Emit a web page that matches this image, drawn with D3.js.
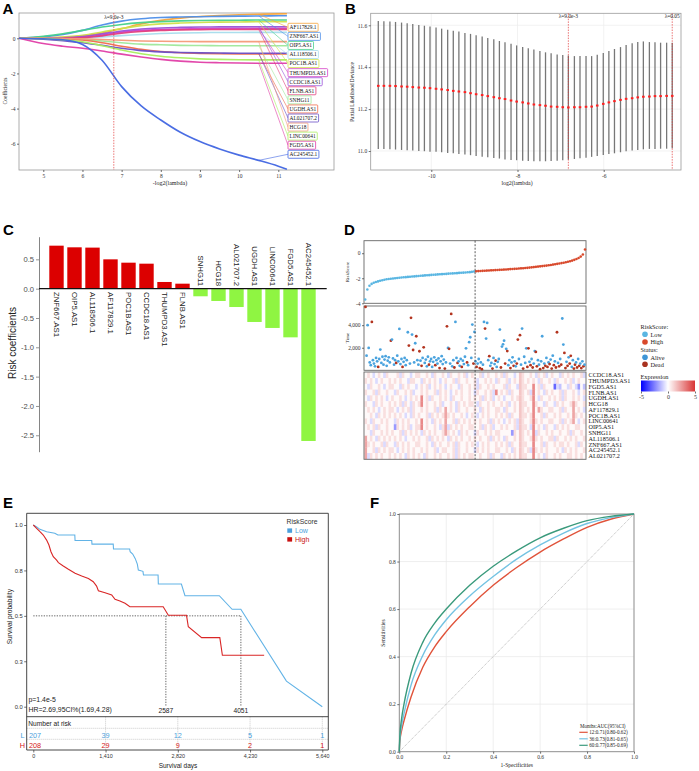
<!DOCTYPE html>
<html>
<head>
<meta charset="utf-8">
<script src="https://cdn.jsdelivr.net/npm/d3@7/dist/d3.min.js"></script>
<style>body{margin:0;background:#fff}svg{display:block}</style>
</head>
<body>
<svg id="fig" width="699" height="771" xmlns="http://www.w3.org/2000/svg"></svg>
<script>
// ================= DATA =================
// ---- Panel A : LASSO coefficient paths ----
const lassoX = [4.38,5,5.5,6,6.5,7,7.5,8,8.5,9,9.5,10,10.5,11,11.22];
const lassoGenes = ["AF117829.1","ZNF667.AS1","OIP5.AS1","AL118506.1","POC1B.AS1","THUMPD3.AS1","CCDC18.AS1","FLNB.AS1","SNHG11","UGDH.AS1","AL021707.2","HCG18","LINC00641","FGD5.AS1","AC245452.1"];
const lassoColors = ["#f5a43c","#4d8ee8","#45d18a","#a6dcec","#cde04a","#d440c6","#9a52d8","#e23f7c","#9ee89a","#f06c4c","#6a4fc6","#f49a78","#a9ef5e","#e03ea6","#4065e2"];
const lassoPaths = [
  [0,0.02,0.06,0.14,0.3,0.55,0.82,1.02,1.15,1.24,1.3,1.34,1.37,1.39,1.40],
  [0,0.08,0.22,0.45,0.76,0.98,1.11,1.18,1.21,1.23,1.25,1.26,1.27,1.28,1.28],
  [0,0.12,0.26,0.45,0.64,0.79,0.89,0.95,0.99,1.01,1.02,1.03,1.04,1.04,1.04],
  [0,0,0.01,0.03,0.08,0.15,0.22,0.27,0.3,0.32,0.33,0.33,0.34,0.34,0.34],
  [0,0.02,0.07,0.17,0.36,0.56,0.72,0.82,0.87,0.9,0.92,0.93,0.94,0.94,0.94],
  [0,0,0.02,0.06,0.19,0.35,0.45,0.5,0.53,0.55,0.56,0.56,0.57,0.57,0.57],
  [0,0.01,0.03,0.1,0.25,0.42,0.53,0.59,0.62,0.64,0.65,0.65,0.66,0.66,0.66],
  [0,0,0.01,0.04,0.14,0.29,0.39,0.45,0.48,0.49,0.5,0.5,0.51,0.51,0.51],
  [0,0,-0.02,-0.06,-0.15,-0.25,-0.33,-0.37,-0.4,-0.41,-0.42,-0.42,-0.42,-0.42,-0.42],
  [0,-0.01,-0.04,-0.1,-0.25,-0.45,-0.63,-0.75,-0.82,-0.86,-0.88,-0.89,-0.89,-0.89,-0.89],
  [0,-0.05,-0.13,-0.25,-0.4,-0.57,-0.7,-0.77,-0.81,-0.83,-0.84,-0.85,-0.85,-0.85,-0.85],
  [0,0,-0.01,-0.03,-0.07,-0.11,-0.15,-0.17,-0.18,-0.19,-0.19,-0.19,-0.19,-0.19,-0.19],
  [0,-0.02,-0.08,-0.2,-0.42,-0.67,-0.88,-1.02,-1.11,-1.17,-1.2,-1.22,-1.23,-1.23,-1.23],
  [0,-0.3,-0.45,-0.57,-0.72,-0.9,-1.06,-1.2,-1.3,-1.36,-1.39,-1.41,-1.42,-1.42,-1.42],
  [0,-0.03,-0.08,-0.35,-1.25,-2.75,-3.85,-4.65,-5.35,-5.88,-6.3,-6.65,-6.95,-7.28,-7.45]
];
const lassoTicksX = [5,6,7,8,9,10,11];
const lassoTicksY = [0,-2,-4,-6];
const lassoLambdaMin = 6.8;
const lassoLambdaText = "λ=9.0e-3";

// ---- Panel B : cross-validation ----
const cvLogLambda = [-11.23,-11.10,-10.96,-10.83,-10.69,-10.56,-10.43,-10.29,-10.16,-10.03,-9.89,-9.76,-9.62,-9.49,-9.36,-9.22,-9.09,-8.96,-8.82,-8.69,-8.55,-8.42,-8.29,-8.15,-8.02,-7.88,-7.75,-7.62,-7.48,-7.35,-7.22,-7.08,-6.95,-6.82,-6.68,-6.55,-6.41,-6.28,-6.15,-6.01,-5.88,-5.75,-5.61,-5.48,-5.34,-5.21,-5.08,-4.94,-4.81,-4.68,-4.54,-4.41];
const cvMean = [11.311,11.311,11.311,11.310,11.308,11.307,11.305,11.303,11.302,11.300,11.297,11.294,11.291,11.287,11.284,11.281,11.276,11.271,11.267,11.262,11.257,11.252,11.248,11.241,11.236,11.232,11.227,11.222,11.219,11.216,11.212,11.211,11.209,11.208,11.209,11.209,11.211,11.212,11.217,11.225,11.232,11.238,11.244,11.249,11.252,11.256,11.259,11.260,11.262,11.262,11.263,11.263];
const cvUpper = [11.621,11.619,11.618,11.616,11.613,11.610,11.606,11.602,11.598,11.594,11.589,11.584,11.579,11.574,11.570,11.563,11.559,11.552,11.546,11.539,11.533,11.525,11.519,11.512,11.504,11.496,11.490,11.484,11.477,11.471,11.466,11.461,11.458,11.456,11.453,11.453,11.453,11.453,11.460,11.468,11.477,11.487,11.496,11.506,11.514,11.520,11.523,11.520,11.519,11.517,11.517,11.517];
const cvLower = [11.010,11.010,11.008,11.007,11.005,11.004,11.002,11.000,10.999,10.997,10.996,10.994,10.991,10.989,10.986,10.983,10.980,10.976,10.973,10.970,10.967,10.964,10.960,10.957,10.956,10.954,10.952,10.951,10.951,10.951,10.952,10.954,10.956,10.959,10.962,10.965,10.968,10.972,10.976,10.981,10.986,10.989,10.994,10.999,11.002,11.005,11.008,11.010,11.010,11.011,11.011,11.013];
const cvTicksX = [-10,-8,-6];
const cvTicksY = [11.0,11.2,11.4,11.6];
const cvMarkX = [-6.82,-4.41];
const cvMarkText = ["λ=9.0e-3","λ=0.05"];

// ---- Panel C : risk coefficients ----
const coefGenes = ["ZNF667.AS1","OIP5.AS1","AL118506.1","AF117829.1","POC1B.AS1","CCDC18.AS1","THUMPD3.AS1","FLNB.AS1","SNHG11","HCG18","AL021707.2","UGDH.AS1","LINC00641","FGD5.AS1","AC245452.1"];
const coefValues = [0.733,0.705,0.70,0.50,0.443,0.426,0.114,0.085,-0.13,-0.21,-0.313,-0.568,-0.67,-0.83,-2.597];
const coefTicks = [0.5,0,-0.5,-1,-1.5,-2,-2.5];

// ---- Panel D : risk score, survival status, heatmap ----
const riskLow = [-3.7,-2.9,-2.6,-2.45,-2.36,-2.3,-2.25,-2.2,-2.16,-2.12,
 -2.08,-2.06,-2.04,-2.02,-2.0,-1.98,-1.96,-1.94,-1.92,-1.91,
 -1.89,-1.88,-1.86,-1.85,-1.83,-1.82,-1.8,-1.79,-1.77,-1.76,
 -1.75,-1.73,-1.72,-1.71,-1.69,-1.68,-1.67,-1.66,-1.65,-1.63,
 -1.62,-1.61,-1.6,-1.59,-1.57,-1.56,-1.55,-1.54,-1.52,-1.51,
 -1.49,-1.46];
const riskHigh = [-1.44,-1.43,-1.42,-1.41,-1.40,-1.39,-1.38,-1.37,-1.36,-1.35,
 -1.34,-1.33,-1.32,-1.31,-1.30,-1.29,-1.27,-1.26,-1.25,-1.24,
 -1.22,-1.21,-1.20,-1.18,-1.17,-1.15,-1.13,-1.11,-1.09,-1.07,
 -1.05,-1.03,-1.01,-0.99,-0.96,-0.94,-0.91,-0.88,-0.85,-0.82,
 -0.79,-0.76,-0.72,-0.68,-0.64,-0.59,-0.53,-0.46,-0.38,-0.27,
 -0.1,0.3];
const riskTicks = [0,-2,-4];
const timeLow = [5620,1300,4000,1980,700,450,4290,900,600,350,
 1100,800,300,1000,1840,650,1200,500,950,1250,
 400,850,1150,700,2630,2720,1050,500,900,650,
 1300,800,3670,550,1000,300,750,1100,450,900,
 3375,2190,600,4650,3170,1800,700,2400,3020,900,
 500,1690,850,400,1100,2040,650,950,350,1200,
 500,800,1000,300,750,1150,450,900,600,1050,
 200,800,1250,550,950,150,700,3900,1980,1900,
 600,5000,350,900,250,4290,1100,650,800,400,
 1000,300,850,550,1200,1950,700,450,2490,2930,
 1100,4050,600,3400];
const deadLow = "1000001000"+"0010000000"+"0000100001"+"0000010000"+"0101010010"+"0101010000"+"1000001000"+"1000010101"+"0100100100"+"0100001000"+"0010";
const timeHigh = [800,300,600,1000,200,700,100,500,4290,3700,
 2810,4200,900,1250,400,650,150,1100,550,850,
 300,750,1000,3610,250,2100,2300,2630,600,1900,
 1700,450,900,200,700,1150,400,800,350,600,
 2720,1000,3110,500,3700,150,1200,650,1950,300,
 1950,750,450,1000,250,600,1700,1630,350,900,
 500,100,800,3020,200,600,400,1100,300,700,
 550,950,150,1300,450,800,250,3375,650,350,
 1000,500,4590,2280,1540,200,750,400,1150,600,
 1280,300,900,150,500,700,250,1000,400,600,
 200,800,350,500];
const deadHigh = "0100101001"+"0001001001"+"0000100010"+"1001001001"+"1010010001"+"1010100110"+"0100101010"+"1010101101"+"0100110101"+"1001101010"+"1010";
const timeTicks = [2000,4000];
const heatGenes = ["CCDC18.AS1","THUMPD3.AS1","FGD5.AS1","FLNB.AS1","UGDH.AS1","HCG18","AF117829.1","POC1B.AS1","LINC00641","OIP5.AS1","SNHG11","AL118506.1","ZNF667.AS1","AC245452.1","AL021707.2"];
const heatRows = [
 "4543454354"+"4453544345"+"5445435445"+"4354454534"+"5445345445"+"4535443465"+"4454354534"+"5443545454"+"453",
 "5454345445"+"4545443554"+"4354545434"+"5445354454"+"4534454543"+"5445345465"+"4545435445"+"4354454534"+"544",
 "4354454345"+"5443545443"+"4545345454"+"3454435445"+"4535445454"+"4453544365"+"5448453544"+"4032443543"+"142",
 "5445354454"+"4354454534"+"4545445354"+"5434545445"+"4354454538"+"4545354465"+"4538454354"+"5445354454"+"345",
 "4354545434"+"5445434545"+"4845354454"+"5435445445"+"4545354534"+"5434454565"+"4458435445"+"4545354454"+"543",
 "5443545445"+"4545354354"+"5845445453"+"4454354545"+"5435445454"+"4545345465"+"5448544354"+"4354544575"+"445",
 "4545434545"+"5434545354"+"4545445354"+"7454354454"+"4543545445"+"5435445465"+"4548475445"+"5445354474"+"543",
 "4454354545"+"4545434354"+"5445354545"+"7545445434"+"5434545445"+"4545354465"+"5458445354"+"4545445475"+"454",
 "5435445454"+"4354545445"+"4845435454"+"7445354545"+"4545445354"+"5434545365"+"4458545445"+"5445354574"+"345",
 "4545354454"+"4154545345"+"5845445435"+"7354545445"+"5445354534"+"4545445365"+"5438454354"+"4354545445"+"544",
 "4435445454"+"5445354545"+"4354545445"+"7545435454"+"4354454545"+"5444415465"+"4548354454"+"5445445354"+"454",
 "7454354545"+"4545434454"+"5445354545"+"4354545445"+"4545445354"+"5435445465"+"4458545445"+"5354454545"+"445",
 "7545445354"+"4354545445"+"5445435454"+"4545354454"+"5434545445"+"4545354465"+"5448445354"+"4545545445"+"354",
 "7445354545"+"5434545454"+"4545445345"+"5445354454"+"4354545445"+"5445435465"+"4538545454"+"4454354545"+"445",
 "7354545445"+"4545435454"+"5435445454"+"4545354545"+"5445445354"+"4354545465"+"5448454354"+"4545445545"+"454"
];
const heatLevelValues = [-3,-2,-1.2,-0.7,0.15,0.8,1.4,2.2,2.9,4];
const exprTicks = [-5,0,5];

// ---- Panel E : Kaplan-Meier ----
const kmLow = [[0,1],[60,0.99],[130,0.976],[260,0.963],[420,0.955],[480,0.945],[810,0.945],[815,0.915],[1140,0.915],[1145,0.895],[1560,0.895],[1565,0.868],[1880,0.868],[1890,0.853],[1940,0.84],[1990,0.815],[2030,0.785],[2050,0.752],[2140,0.745],[2150,0.725],[2435,0.725],[2440,0.675],[2890,0.675],[2960,0.611],[3630,0.611],[3880,0.536],[4050,0.536],[4940,0.141],[5640,0]];
const kmHigh = [[0,1],[65,0.982],[130,0.963],[195,0.945],[260,0.917],[305,0.89],[345,0.853],[390,0.826],[455,0.807],[490,0.793],[585,0.774],[685,0.756],[815,0.734],[945,0.719],[1075,0.706],[1170,0.688],[1235,0.664],[1270,0.638],[1400,0.627],[1530,0.615],[1595,0.591],[1690,0.582],[1790,0.569],[1885,0.55],[2535,0.55],[2635,0.503],[2990,0.503],[3025,0.44],[3285,0.38],[3640,0.38],[3690,0.283],[4505,0.283]];
const kmTicksX = [0,1410,2820,4230,5640];
const kmTicksY = [0,0.25,0.5,0.75,1];
const kmTickLabelsY = ["0.0","0.3","0.5","0.8","1.0"];
const kmMedians = [2587,4051];
const atRiskLow = [207,39,12,5,1];
const atRiskHigh = [208,29,9,2,1];
const kmP = "p=1.4e-5";
const kmHR = "HR=2.69,95CI%(1.69,4.28)";

// ---- Panel F : time-dependent ROC ----
const roc12 = [[0,0],[0.002,0.04],[0.01,0.09],[0.02,0.13],[0.05,0.23],[0.1,0.355],[0.15,0.44],[0.2,0.505],[0.3,0.61],[0.4,0.7],[0.5,0.775],[0.6,0.84],[0.7,0.895],[0.8,0.944],[0.9,0.978],[1,1]];
const roc36 = [[0,0],[0.002,0.05],[0.01,0.11],[0.02,0.16],[0.05,0.28],[0.1,0.405],[0.15,0.49],[0.2,0.555],[0.3,0.655],[0.4,0.737],[0.5,0.81],[0.6,0.87],[0.7,0.92],[0.8,0.96],[0.9,0.985],[1,1]];
const roc60 = [[0,0],[0.002,0.06],[0.01,0.14],[0.02,0.2],[0.05,0.33],[0.1,0.46],[0.15,0.54],[0.2,0.6],[0.3,0.7],[0.4,0.78],[0.5,0.845],[0.6,0.9],[0.7,0.94],[0.8,0.972],[0.9,0.99],[1,1]];
const rocLabels = ["12:0.71(0.80-0.62)","36:0.73(0.81-0.65)","60:0.77(0.85-0.69)"];
const rocTicks = [0,0.2,0.4,0.6,0.8,1.0];

// ================= DRAWING =================
const svg = d3.select("#fig");
const SERIF = "'Liberation Serif','Times New Roman',Times,serif";
const SANS = "'Liberation Sans',Arial,Helvetica,sans-serif";

function txt(p, x, y, s, o = {}) {
  const t = p.append("text").attr("x", x).attr("y", y).text(s)
    .attr("font-family", o.font || SERIF).attr("font-size", o.size || 5.5)
    .attr("fill", o.fill || "#222");
  if (o.anchor) t.attr("text-anchor", o.anchor);
  if (o.weight) t.attr("font-weight", o.weight);
  if (o.dy) t.attr("dy", o.dy);
  if (o.rotate != null) t.attr("transform", `rotate(${o.rotate},${x},${y})`);
  return t;
}
function styleAxis(g, o = {}) {
  g.attr("font-family", o.font || SERIF).attr("font-size", o.size || 5.5);
  g.selectAll(".tick text").attr("fill", o.fill || "#333");
  g.selectAll(".tick line").attr("stroke", o.stroke || "#333").attr("stroke-width", o.sw || 0.7);
  if (o.noDomain) g.select(".domain").remove();
  else g.select(".domain").attr("stroke", o.stroke || "#333").attr("stroke-width", o.sw || 0.8);
}
const fmtPlain = d => String(d);

// panel letters
[["A",2.5,14],["B",345,14],["C",3,235],["D",344,235],["E",3,508],["F",370,508]].forEach(([l,x,y]) =>
  txt(svg, x, y, l, {font: SANS, size: 15, weight: "bold", fill: "#000"}));

// ---------- Panel A ----------
{
  const g = svg.append("g");
  const x = d3.scaleLinear().domain([5, 11]).range([43.3, 278.3]);
  const y = d3.scaleLinear().domain([0, -6]).range([38.3, 143.7]);
  g.append("rect").attr("x", 19).attr("y", 13).attr("width", 315).attr("height", 157)
    .attr("fill", "none").attr("stroke", "#9a9a9a").attr("stroke-width", 0.8);
  g.append("g").attr("transform", "translate(0,170)")
    .call(d3.axisBottom(x).tickValues(lassoTicksX).tickSize(2).tickPadding(2).tickFormat(fmtPlain))
    .call(a => styleAxis(a, {noDomain: true, size: 5.5}));
  g.append("g").attr("transform", "translate(19,0)")
    .call(d3.axisLeft(y).tickValues(lassoTicksY).tickSize(2).tickPadding(1.5).tickFormat(fmtPlain))
    .call(a => styleAxis(a, {noDomain: true, size: 5.5}));
  const line = d3.line().x((d, i) => x(lassoX[i])).y(d => y(d)).curve(d3.curveMonotoneX);
  lassoPaths.forEach((p, k) => g.append("path").attr("d", line(p)).attr("fill", "none")
    .attr("stroke", lassoColors[k]).attr("stroke-width", 1.6).attr("stroke-opacity", 0.95));
  g.append("line").attr("x1", x(lassoLambdaMin)).attr("x2", x(lassoLambdaMin)).attr("y1", 13).attr("y2", 170)
    .attr("stroke", "#e23a3a").attr("stroke-width", 0.7).attr("stroke-dasharray", "1.5,1.2");
  txt(g, x(lassoLambdaMin), 19, lassoLambdaText, {anchor: "middle", size: 5.4});
  const labTop = 27.3, labStep = 9.07;
  lassoGenes.forEach((name, k) => {
    const ly = labTop + k * labStep;
    g.append("line").attr("x1", x(lassoX[12])).attr("y1", y(lassoPaths[k][12]))
      .attr("x2", 288).attr("y2", ly).attr("stroke", lassoColors[k]).attr("stroke-width", 0.6);
    const r = g.append("rect").attr("x", 288).attr("y", ly - 4).attr("height", 8).attr("rx", 0.8)
      .attr("fill", "#fff").attr("stroke", lassoColors[k]).attr("stroke-width", 0.8);
    const t = txt(g, 289.6, ly + 1.9, name, {size: 5.4, fill: "#111"});
    r.attr("width", t.node().getComputedTextLength() + 3.2);
  });
  txt(g, 170, 184.5, "-log2(lambda)", {anchor: "middle", size: 6});
  txt(g, 7, 91, "Coefficients", {anchor: "middle", size: 5.5, rotate: -90});
}

// ---------- Panel B ----------
{
  const g = svg.append("g");
  const x = d3.scaleLinear().domain([-10, -6]).range([431.3, 603.7]);
  const y = d3.scaleLinear().domain([11.0, 11.6]).range([151, 25.3]);
  const L = 370.7, R = 681, T = 13.3, Bt = 170;
  g.selectAll(".gx").data(cvTicksX).join("line").attr("x1", d => x(d)).attr("x2", d => x(d))
    .attr("y1", T).attr("y2", Bt).attr("stroke", "#ececec").attr("stroke-width", 0.7);
  g.selectAll(".gy").data(cvTicksY).join("line").attr("y1", d => y(d)).attr("y2", d => y(d))
    .attr("x1", L).attr("x2", R).attr("stroke", "#ececec").attr("stroke-width", 0.7);
  g.append("rect").attr("x", L).attr("y", T).attr("width", R - L).attr("height", Bt - T)
    .attr("fill", "none").attr("stroke", "#9a9a9a").attr("stroke-width", 0.8);
  g.append("g").attr("transform", `translate(0,${Bt})`)
    .call(d3.axisBottom(x).tickValues(cvTicksX).tickSize(2).tickPadding(2).tickFormat(fmtPlain))
    .call(a => styleAxis(a, {noDomain: true}));
  g.append("g").attr("transform", `translate(${L},0)`)
    .call(d3.axisLeft(y).tickValues(cvTicksY).tickSize(2).tickPadding(1.5).tickFormat(d => d.toFixed(1)))
    .call(a => styleAxis(a, {noDomain: true}));
  g.selectAll(".eb").data(cvLogLambda).join("line")
    .attr("x1", d => x(d)).attr("x2", d => x(d))
    .attr("y1", (d, i) => y(cvLower[i])).attr("y2", (d, i) => y(cvUpper[i]))
    .attr("stroke", "#777").attr("stroke-width", 1.3);
  g.selectAll(".mp").data(cvLogLambda).join("rect")
    .attr("x", d => x(d) - 1.3).attr("y", (d, i) => y(cvMean[i]) - 1)
    .attr("width", 2.6).attr("height", 2).attr("fill", "#ff2020");
  cvMarkX.forEach((m, i) => {
    g.append("line").attr("x1", x(m)).attr("x2", x(m)).attr("y1", T).attr("y2", Bt)
      .attr("stroke", "#e23a3a").attr("stroke-width", 0.7).attr("stroke-dasharray", "1.5,1.2");
    txt(g, x(m), 17.5, cvMarkText[i], {anchor: "middle", size: 5.4});
  });
  txt(g, 517, 184.5, "log2(lambda)", {anchor: "middle", size: 5.8});
  txt(g, 354, 92, "Partial Likelihood Deviance", {anchor: "middle", size: 5.3, rotate: -90});
}

// ---------- Panel C ----------
{
  const g = svg.append("g");
  const x = d3.scaleBand().domain(coefGenes).range([47.5, 317.5]).paddingInner(0.2).paddingOuter(0.1);
  const y = d3.scaleLinear().domain([0.886, -2.78]).range([236.7, 451.7]);
  g.selectAll(".bar").data(coefValues).join("rect")
    .attr("x", (d, i) => x(coefGenes[i])).attr("width", x.bandwidth())
    .attr("y", d => y(Math.max(0, d))).attr("height", d => Math.abs(y(d) - y(0)))
    .attr("fill", d => d > 0 ? "#dc0000" : "#8ff542");
  g.append("g").attr("transform", "translate(39,0)")
    .call(d3.axisLeft(y).tickValues(coefTicks).tickSize(3).tickSizeOuter(0).tickPadding(2).tickFormat(d => d.toFixed(1)))
    .call(a => styleAxis(a, {font: SANS, size: 7.6, fill: "#4d4d4d", stroke: "#666"}));
  g.append("line").attr("x1", 39).attr("x2", 326.7).attr("y1", y(0)).attr("y2", y(0))
    .attr("stroke", "#111").attr("stroke-width", 1.3);
  coefValues.forEach((v, i) => {
    const cx = x(coefGenes[i]) + x.bandwidth() / 2;
    if (v > 0) txt(g, cx, y(0) + 3.3, coefGenes[i], {font: SANS, size: 7.8, fill: "#222", rotate: 90, dy: "0.35em"});
    else txt(g, cx, y(0) - 2.5, coefGenes[i], {font: SANS, size: 7.8, fill: "#222", rotate: 90, dy: "0.35em", anchor: "end"});
  });
  txt(g, 16, 343, "Risk coefficients", {font: SANS, size: 10, fill: "#222", anchor: "middle", rotate: -90});
}

// ---------- Panel D ----------
{
  const g = svg.append("g");
  const L = 364, R = 586;
  // top: risk score
  const riskAll = riskLow.concat(riskHigh);
  const xr = d3.scaleLinear().domain([0, riskAll.length - 1]).range([365.2, 585]);
  const yr = d3.scaleLinear().domain([-4, 1]).range([303.3, 240.7]);
  g.append("rect").attr("x", L).attr("y", 240.7).attr("width", R - L).attr("height", 62.6)
    .attr("fill", "none").attr("stroke", "#666").attr("stroke-width", 0.9);
  g.selectAll(".rs").data(riskAll).join("circle")
    .attr("cx", (d, i) => xr(i)).attr("cy", d => yr(d)).attr("r", 1.3)
    .attr("fill", (d, i) => i < riskLow.length ? "#5ab6e2" : "#d8492c");
  g.append("g").attr("transform", `translate(${L},0)`)
    .call(d3.axisLeft(yr).tickValues(riskTicks).tickSize(2).tickPadding(1.5).tickFormat(fmtPlain))
    .call(a => styleAxis(a, {noDomain: true}));
  txt(g, 348.5, 272, "RiskScore", {anchor: "middle", size: 5, rotate: -90});
  // middle: survival time
  const times = timeLow.concat(timeHigh);
  const dead = (deadLow + deadHigh).split("");
  const xs = d3.scaleLinear().domain([0, times.length - 1]).range([365.5, 584.5]);
  const ys = d3.scaleLinear().domain([0, 5700]).range([370.3, 306]);
  g.append("rect").attr("x", L).attr("y", 306).attr("width", R - L).attr("height", 64.3)
    .attr("fill", "none").attr("stroke", "#666").attr("stroke-width", 0.9);
  g.selectAll(".st").data(times).join("circle")
    .attr("cx", (d, i) => xs(i)).attr("cy", d => ys(d)).attr("r", 1.4)
    .attr("fill", (d, i) => dead[i] === "1" ? "#b3341f" : "#4aa3de");
  g.append("g").attr("transform", `translate(${L},0)`)
    .call(d3.axisLeft(ys).tickValues(timeTicks).tickSize(2).tickPadding(1.5).tickFormat(d3.format(",")))
    .call(a => styleAxis(a, {noDomain: true}));
  txt(g, 348.5, 338, "Time", {anchor: "middle", size: 5, rotate: -90});
  // heatmap
  const nCol = heatRows[0].length;
  const xh = d3.scaleBand().domain(d3.range(nCol)).range([L + 0.5, R - 0.5]);
  const yh = d3.scaleBand().domain(heatGenes).range([372.3, 458.8]);
  const col = d3.scaleLinear().domain([-5, 0, 5]).range(["#0000ff", "#ffffff", "#d93434"]);
  heatRows.forEach((row, r) => {
    g.append("g").selectAll("rect").data(row.split("")).join("rect")
      .attr("x", (d, c) => xh(c)).attr("width", xh.bandwidth() + 0.35)
      .attr("y", yh(heatGenes[r])).attr("height", yh.bandwidth() + 0.3)
      .attr("fill", d => col(heatLevelValues[+d]));
  });
  g.append("rect").attr("x", L).attr("y", 372).attr("width", R - L).attr("height", 87.3)
    .attr("fill", "none").attr("stroke", "#666").attr("stroke-width", 0.9);
  heatGenes.forEach(n => txt(g, 588.5, yh(n) + yh.bandwidth() / 2, n, {size: 6.2, fill: "#111", dy: "0.35em"}));
  // cutoff dashed line
  const cx = xr(riskLow.length - 0.5);
  g.append("line").attr("x1", cx).attr("x2", cx).attr("y1", 240.7).attr("y2", 459.3)
    .attr("stroke", "#333").attr("stroke-width", 0.8).attr("stroke-dasharray", "2,1.5");
  // legends
  const lf = {size: 6.3, fill: "#222"};
  txt(g, 640.5, 329, "RiskScore:", lf);
  [["Low", "#5ab6e2", 334.3], ["High", "#d8492c", 342]].forEach(([t, c, yy]) => {
    g.append("circle").attr("cx", 645).attr("cy", yy).attr("r", 2.8).attr("fill", c);
    txt(g, 650.5, yy + 2.2, t, lf);
  });
  txt(g, 640.5, 352, "Status:", lf);
  [["Alive", "#3f95d6", 357.3], ["Dead", "#a83220", 364.3]].forEach(([t, c, yy]) => {
    g.append("circle").attr("cx", 645).attr("cy", yy).attr("r", 2.8).attr("fill", c);
    txt(g, 650.5, yy + 2.2, t, lf);
  });
  txt(g, 640.5, 378.5, "Expression", lf);
  const grad = svg.append("defs").append("linearGradient").attr("id", "exprGrad");
  [-5, -2.5, 0, 2.5, 5].forEach(v => grad.append("stop").attr("offset", ((v + 5) / 10 * 100) + "%").attr("stop-color", col(v)));
  const xe = d3.scaleLinear().domain([-5, 5]).range([641, 695]);
  g.append("rect").attr("x", 641).attr("y", 380.5).attr("width", 54).attr("height", 11).attr("fill", "url(#exprGrad)");
  g.append("g").attr("transform", "translate(0,391.5)")
    .call(d3.axisBottom(xe).tickValues(exprTicks).tickSize(2).tickPadding(1).tickFormat(fmtPlain))
    .call(a => styleAxis(a, {noDomain: true, size: 6}));
}

// ---------- Panel E ----------
{
  const g = svg.append("g");
  const x = d3.scaleLinear().domain([0, 5640]).range([33.3, 322.3]);
  const y = d3.scaleLinear().domain([0, 1]).range([706.7, 525]);
  const L = 26.7, R = 328.3, T = 513.3, S = 716.7, Bt = 750;
  [728.3, 739.3].forEach(yy => g.append("line").attr("x1", L).attr("x2", R).attr("y1", yy).attr("y2", yy)
    .attr("stroke", "#aaa").attr("stroke-width", 0.6).attr("stroke-dasharray", "1,1"));
  kmTicksX.slice(1).forEach(d => g.append("line").attr("x1", x(d)).attr("x2", x(d)).attr("y1", S).attr("y2", Bt)
    .attr("stroke", "#aaa").attr("stroke-width", 0.6).attr("stroke-dasharray", "1,1"));
  g.append("path").attr("d", `M${L},${T}H${R}V${Bt}H${L}Z`).attr("fill", "none").attr("stroke", "#333").attr("stroke-width", 0.9);
  g.append("line").attr("x1", L).attr("x2", R).attr("y1", S).attr("y2", S).attr("stroke", "#333").attr("stroke-width", 0.9);
  g.append("g").attr("transform", `translate(0,${Bt})`)
    .call(d3.axisBottom(x).tickValues(kmTicksX).tickSize(2.5).tickPadding(1.5).tickFormat(d3.format(",")))
    .call(a => styleAxis(a, {noDomain: true, font: SANS, size: 5.4}));
  g.append("g").attr("transform", `translate(${L},0)`)
    .call(d3.axisLeft(y).tickValues(kmTicksY).tickSize(2.5).tickPadding(1.5).tickFormat((d, i) => kmTickLabelsY[i]))
    .call(a => styleAxis(a, {noDomain: true, font: SANS, size: 5.8}));
  const med = {stroke: "#222", w: 0.7, dash: "1.3,1.3"};
  g.append("line").attr("x1", x(0)).attr("x2", x(kmMedians[1])).attr("y1", y(0.5)).attr("y2", y(0.5))
    .attr("stroke", med.stroke).attr("stroke-width", med.w).attr("stroke-dasharray", med.dash);
  kmMedians.forEach(m => {
    g.append("line").attr("x1", x(m)).attr("x2", x(m)).attr("y1", y(0.5)).attr("y2", y(0))
      .attr("stroke", med.stroke).attr("stroke-width", med.w).attr("stroke-dasharray", med.dash);
    txt(g, x(m), 713.2, String(m), {font: SANS, size: 6.7, anchor: "middle", fill: "#222"});
  });
  const line = d3.line().x(d => x(d[0])).y(d => y(d[1]));
  g.append("path").attr("d", line(kmLow)).attr("fill", "none").attr("stroke", "#62b3e6").attr("stroke-width", 1.1);
  g.append("path").attr("d", line(kmHigh)).attr("fill", "none").attr("stroke", "#d92626").attr("stroke-width", 1.1);
  txt(g, 28.5, 701.5, kmP, {font: SANS, size: 6.9, fill: "#222"});
  txt(g, 28.5, 711.7, kmHR, {font: SANS, size: 6.9, fill: "#222"});
  txt(g, 286.5, 524, "RiskScore", {font: SANS, size: 6.8, fill: "#333"});
  g.append("rect").attr("x", 287.3).attr("y", 528.4).attr("width", 4.8).attr("height", 4.4).attr("fill", "#4c9fdc");
  txt(g, 295, 532.8, "Low", {font: SANS, size: 7, fill: "#4c9fdc"});
  g.append("rect").attr("x", 287.3).attr("y", 537.2).attr("width", 4.8).attr("height", 4.4).attr("fill", "#c81010");
  txt(g, 295, 541.6, "High", {font: SANS, size: 7, fill: "#c81010"});
  txt(g, 28.3, 725.8, "Number at risk", {font: SANS, size: 6.6, fill: "#222"});
  txt(g, 22.5, 737.6, "L", {font: SANS, size: 7.3, fill: "#4c9fdc", anchor: "middle"});
  txt(g, 22.5, 748.3, "H", {font: SANS, size: 7.3, fill: "#d42020", anchor: "middle"});
  atRiskLow.forEach((v, i) => txt(g, i === 0 ? 29 : x(kmTicksX[i]), 737.6, String(v),
    {font: SANS, size: 7.3, fill: "#4c9fdc", anchor: i === 0 ? "start" : "middle"}));
  atRiskHigh.forEach((v, i) => txt(g, i === 0 ? 29 : x(kmTicksX[i]), 748.3, String(v),
    {font: SANS, size: 7.3, fill: "#d42020", anchor: i === 0 ? "start" : "middle"}));
  txt(g, 178, 767.5, "Survival days", {font: SANS, size: 6.5, anchor: "middle", fill: "#222"});
  txt(g, 12, 616.7, "Survival probability", {font: SANS, size: 6.6, anchor: "middle", rotate: -90, fill: "#222"});
}

// ---------- Panel F ----------
{
  const g = svg.append("g");
  const x = d3.scaleLinear().domain([0, 1]).range([399.3, 634]);
  const y = d3.scaleLinear().domain([0, 1]).range([751.7, 514]);
  rocTicks.forEach(t => {
    g.append("line").attr("x1", x(t)).attr("x2", x(t)).attr("y1", y(0)).attr("y2", y(1)).attr("stroke", "#e8e8e8").attr("stroke-width", 0.7);
    g.append("line").attr("y1", y(t)).attr("y2", y(t)).attr("x1", x(0)).attr("x2", x(1)).attr("stroke", "#e8e8e8").attr("stroke-width", 0.7);
  });
  g.append("line").attr("x1", x(0)).attr("y1", y(0)).attr("x2", x(1)).attr("y2", y(1))
    .attr("stroke", "#888").attr("stroke-width", 0.6).attr("stroke-dasharray", "1,1");
  g.append("rect").attr("x", x(0)).attr("y", y(1)).attr("width", x(1) - x(0)).attr("height", y(0) - y(1))
    .attr("fill", "none").attr("stroke", "#888").attr("stroke-width", 0.9);
  g.append("g").attr("transform", `translate(0,${y(0)})`)
    .call(d3.axisBottom(x).tickValues(rocTicks).tickSize(2).tickPadding(1.5).tickFormat(d => d.toFixed(1)))
    .call(a => styleAxis(a, {noDomain: true}));
  g.append("g").attr("transform", `translate(${x(0)},0)`)
    .call(d3.axisLeft(y).tickValues(rocTicks).tickSize(2).tickPadding(1.5).tickFormat(d => d.toFixed(1)))
    .call(a => styleAxis(a, {noDomain: true}));
  const line = d3.line().x(d => x(d[0])).y(d => y(d[1])).curve(d3.curveMonotoneX);
  const rocSeries = [roc12, roc36, roc60];
  const rocColors = ["#e0533a", "#74c3e2", "#3a9a7c"];
  rocSeries.forEach((s, i) => g.append("path").attr("d", line(s)).attr("fill", "none")
    .attr("stroke", rocColors[i]).attr("stroke-width", 1.4));
  txt(g, 580, 727.8, "Months:AUC(95%CI)", {size: 5.1, fill: "#222"});
  rocLabels.forEach((t, i) => {
    const yy = 732.3 + i * 6.5;
    g.append("line").attr("x1", 579.3).attr("x2", 587.7).attr("y1", yy).attr("y2", yy)
      .attr("stroke", rocColors[i]).attr("stroke-width", 1.2);
    txt(g, 589.3, yy + 1.7, t, {size: 5.1, fill: "#222"});
  });
  txt(g, 516.7, 766.5, "1-Specificities", {anchor: "middle", size: 5.6});
  txt(g, 385, 633, "Sensitivities", {anchor: "middle", size: 5.6, rotate: -90});
}
</script>
</body>
</html>
